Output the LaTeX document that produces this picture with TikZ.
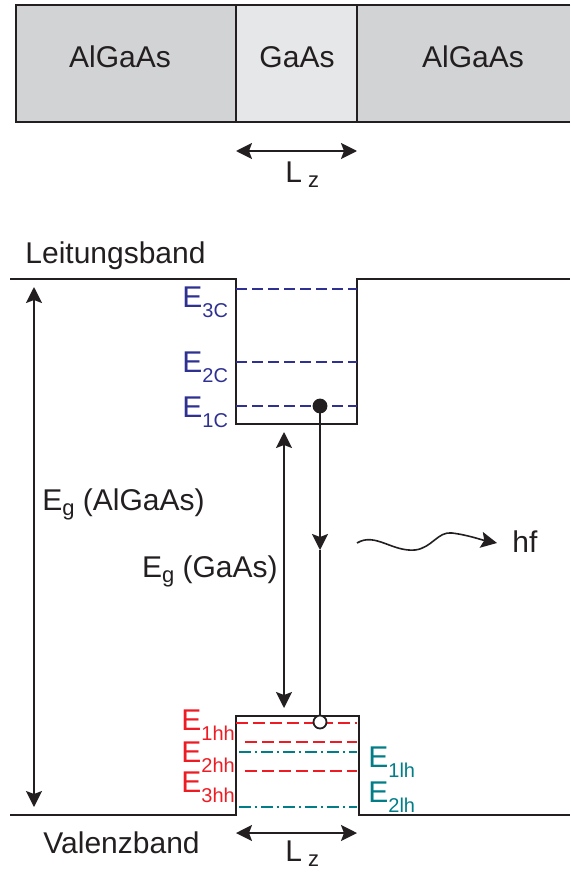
\documentclass[tikz,border=0pt]{standalone}
\usepackage{fontspec}
\setmainfont{Liberation Sans}
\usetikzlibrary{arrows.meta}

\definecolor{ink}{RGB}{35,31,32}
\definecolor{algaas}{RGB}{209,211,212}
\definecolor{gaas}{RGB}{230,231,232}
\definecolor{cblue}{RGB}{46,49,146}
\definecolor{hhred}{RGB}{237,28,36}
\definecolor{lhteal}{RGB}{0,125,135}

\newcommand{\Elevel}[1]{E\raisebox{-5pt}{\fontsize{10}{12}\selectfont #1}}
\newcommand{\Lzlabel}{L\hspace{3pt}\raisebox{-2.5pt}{\fontsize{11}{12}\selectfont z}}
\newcommand{\Eglabel}{E\raisebox{-2.5pt}{\fontsize{11}{12}\selectfont g}}

\begin{document}
\begin{tikzpicture}
    [
        x=0.5pt, y=-0.5pt,
        >={Stealth[length=8pt, width=8pt, inset=1.5pt]},
        every node/.style={inner sep=0pt, text=ink, font=\fontsize{15}{18}\selectfont},
        layer/.style={draw=ink, line width=1pt},
        band/.style={draw=ink, line width=1pt},
        dim/.style={draw=ink, line width=0.9pt, <->},
        clevel/.style={draw=cblue, line width=0.9pt, dash pattern=on 5.5pt off 2.5pt},
        hhlevel/.style={draw=hhred, line width=0.9pt, dash pattern=on 6pt off 2.5pt},
        lhlevel/.style={draw=lhteal, line width=0.9pt, dash pattern=on 6pt off 2pt on 1pt off 2pt},
        carrier/.style={circle, draw=ink, line width=0.9pt, minimum size=6.5pt, inner sep=0pt}
    ]
        \useasboundingbox (0,0) rectangle (570,872);
        % =========================================================================
        % LAYERS
        % =========================================================================
        \fill [algaas] (16,5) rectangle (570,122);
        \fill [gaas] (236,5) rectangle (357,122);
        \draw [layer] (570,5) -- (16,5) -- (16,122) -- (570,122);
        \draw [layer] (236,5) -- (236,122);
        \draw [layer] (357,5) -- (357,122);
        \node [anchor=base] (algaasL) at (120,68) {AlGaAs};
        \node [anchor=base] (gaas) at (297,68) {GaAs};
        \node [anchor=base] (algaasR) at (473,68) {AlGaAs};
        % --- well width ---
        \coordinate (lzT1) at (236,151);
        \coordinate (lzT2) at (357,151);
        \draw [dim] (lzT1) -- (lzT2);
        \node [anchor=base west] (lzT) at (285,182) {\Lzlabel};

        % =========================================================================
        % CONDUCTION BAND
        % =========================================================================
        \coordinate (cbL) at (10,279);
        \coordinate (cwTL) at (236,279);
        \coordinate (cwBL) at (236,424);
        \coordinate (cwBR) at (357,424);
        \coordinate (cwTR) at (357,279);
        \coordinate (cbR) at (570,279);
        \draw [band] (cbL) -- (cwTL) -- (cwBL) -- (cwBR) -- (cwTR) -- (cbR);
        \node [anchor=base west] (leitung) at (25,263) {Leitungsband};
        \foreach \y/\b/\n in {289/307/3C, 362/372/2C, 406/417/1C} {
            \coordinate (lvl\n l) at (236,\y);
            \coordinate (lvl\n r) at (357,\y);
            \draw [clevel] (lvl\n l) -- (lvl\n r);
            \node [anchor=base west, text=cblue] (E\n) at (182,\b) {\Elevel{\n}};
        }

        % =========================================================================
        % VALENCE BAND
        % =========================================================================
        \coordinate (vbL) at (10,815);
        \coordinate (vwBL) at (236,815);
        \coordinate (vwTL) at (236,716);
        \coordinate (vwTR) at (359,716);
        \coordinate (vwBR) at (359,815);
        \coordinate (vbR) at (570,815);
        \draw [band] (vbL) -- (vwBL) -- (vwTL) -- (vwTR) -- (vwBR) -- (vbR);
        \node [anchor=base west] (valenz) at (43,853) {Valenzband};
        % --- heavy holes ---
        \foreach \y/\x in {723/236, 742/245, 771/245} {
            \coordinate (hh\y l) at (\x,\y);
            \coordinate (hh\y r) at (357,\y);
            \draw [hhlevel] (hh\y l) -- (hh\y r);
        }
        \foreach \b/\n in {730/1hh, 762/2hh, 792/3hh}
            \node [anchor=base west, text=hhred] (E\n) at (181,\b) {\Elevel{\n}};
        % --- light holes ---
        \foreach \y in {752, 807} {
            \coordinate (lh\y l) at (239,\y);
            \coordinate (lh\y r) at (357,\y);
            \draw [lhlevel] (lh\y l) -- (lh\y r);
        }
        \foreach \b/\n in {767/1lh, 802/2lh}
            \node [anchor=base west, text=lhteal] (E\n) at (368,\b) {\Elevel{\n}};
        % --- well width ---
        \coordinate (lzB1) at (236,833);
        \coordinate (lzB2) at (357,833);
        \draw [dim] (lzB1) -- (lzB2);
        \node [anchor=base west] (lzB) at (285,861) {\Lzlabel};

        % =========================================================================
        % GAPS AND TRANSITION
        % =========================================================================
        \coordinate (egA1) at (34,287);
        \coordinate (egA2) at (34,807);
        \draw [dim] (egA1) -- (egA2);
        \node [anchor=base west] (egAlGaAs) at (42,510) {\Eglabel\ (AlGaAs)};
        \coordinate (egG1) at (284,432);
        \coordinate (egG2) at (284,708);
        \draw [dim] (egG1) -- (egG2);
        \node [anchor=base east] (egGaAs) at (278,577) {\Eglabel\ (GaAs)};
        % --- electron -> hole ---
        \node [carrier, fill=ink] (electron) at (320,406) {};
        \node [carrier, fill=white] (hole) at (320,722) {};
        \coordinate (emid) at (320,550);
        \draw [->, ink, line width=0.9pt] (electron) -- (emid);
        \draw [ink, line width=0.9pt] (emid) -- (hole);
        % --- photon ---
        \coordinate (wave0) at (357,543);
        \coordinate (wave1) at (497,543);
        \draw [->, ink, line width=0.8pt] (wave0)
            .. controls (375,532) and (392,552) .. (415,550)
            .. controls (432,548) and (438,531) .. (452,533)
            .. controls (468,535) and (482,540) .. (wave1);
        \node [anchor=base west] (hf) at (512,552) {hf};
\end{tikzpicture}
\end{document}
